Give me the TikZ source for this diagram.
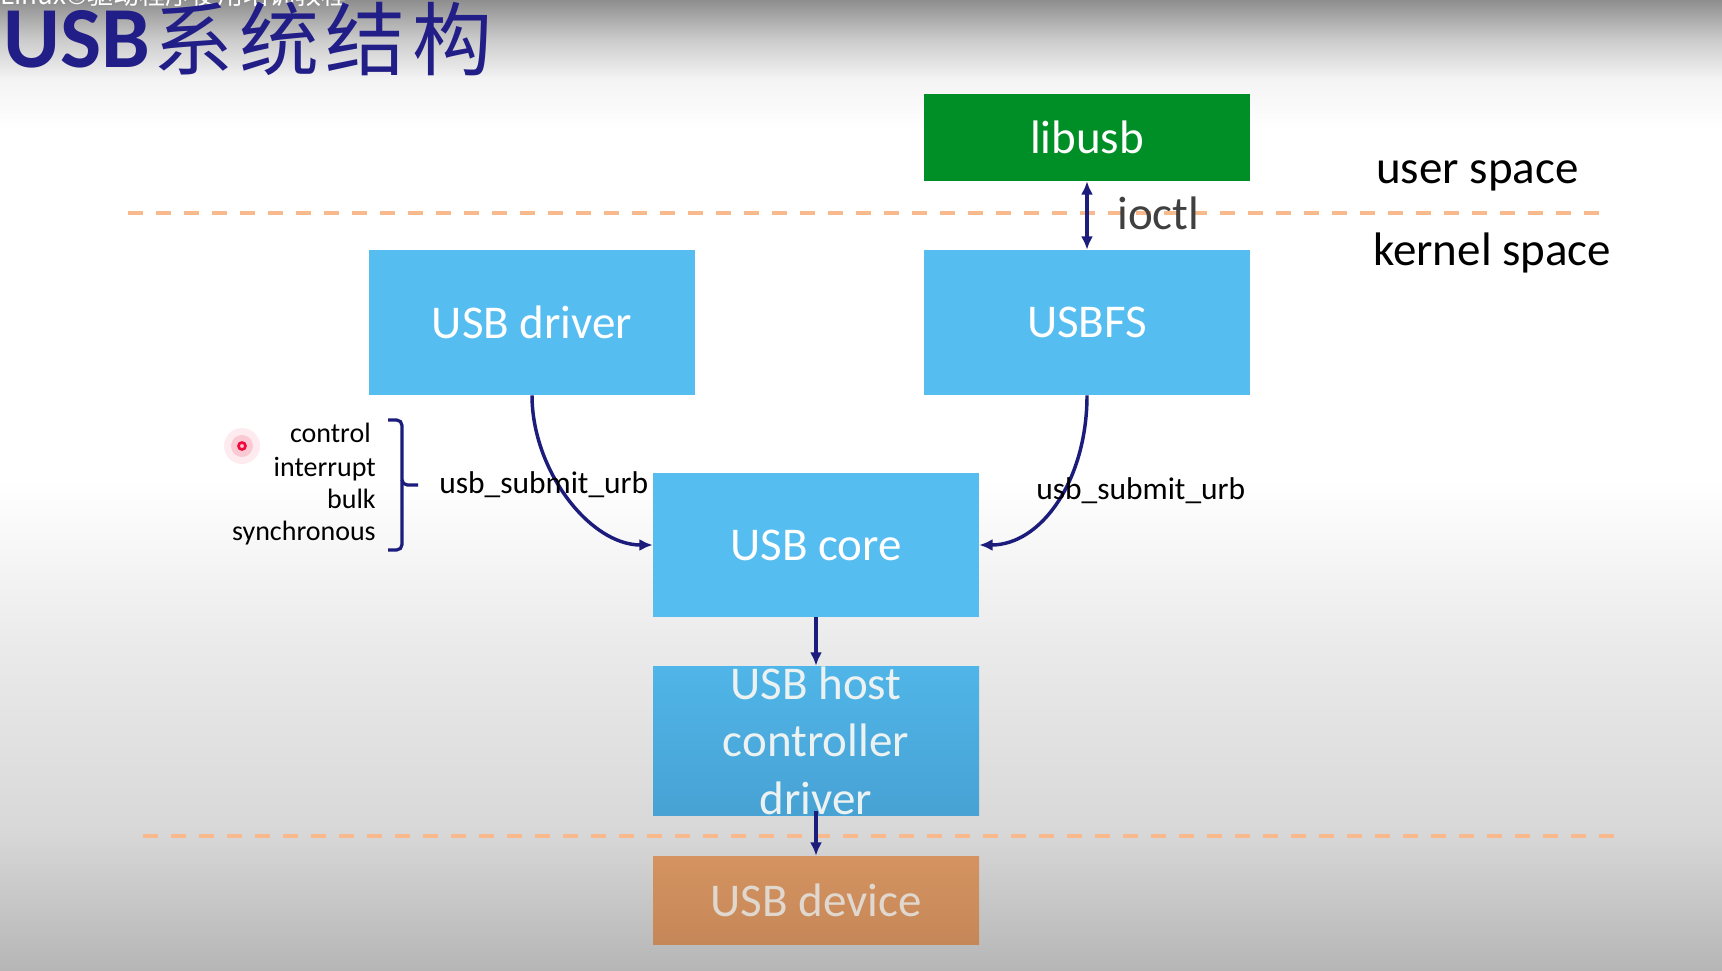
\documentclass[tikz,border=0pt]{standalone}
\usepackage{fontspec}
\setmainfont{Carlito}
\newfontfamily\cjk{Noto Sans CJK SC}
\usetikzlibrary{arrows.meta}
\definecolor{navy}{RGB}{28,28,125}
\definecolor{titlec}{RGB}{34,30,135}
\definecolor{boxblue}{RGB}{86,189,240}
\definecolor{hcdtop}{RGB}{80,181,232}
\definecolor{hcdbot}{RGB}{72,162,212}
\definecolor{devtop}{RGB}{212,147,96}
\definecolor{devbot}{RGB}{198,135,88}
\definecolor{libgreen}{RGB}{0,143,38}
\definecolor{dashc}{RGB}{248,185,140}
\definecolor{bgbot}{RGB}{182,182,182}
\definecolor{bgmid}{RGB}{216,216,216}
\definecolor{bgmtwo}{RGB}{234,234,234}
\definecolor{bgttwo}{RGB}{244,244,244}
\definecolor{bgtone}{RGB}{205,205,205}
\definecolor{bgtop}{RGB}{142,142,142}
\definecolor{ioctlc}{RGB}{64,64,64}
\definecolor{hcdtext}{RGB}{236,242,242}
\definecolor{devtext}{RGB}{224,216,206}
\definecolor{dotred}{RGB}{240,10,60}
\pgfdeclareverticalshading{bgshade}{100bp}{color(0bp)=(bgbot); color(25bp)=(bgbot); color(32.2bp)=(bgmid); color(41.5bp)=(bgmtwo); color(50.3bp)=(white); color(68.3bp)=(white); color(70.9bp)=(bgttwo); color(72.9bp)=(bgtone); color(75bp)=(bgtop); color(100bp)=(bgtop)}
\tikzset{
  box/.style={rectangle, inner sep=0pt, minimum width=244.5pt, align=center,
    font=\fontsize{35.25}{43.1}\selectfont, text=white},
  arr/.style={draw=navy, line width=2.6pt, -{Latex[length=10pt,width=9pt]}},
  darr/.style={draw=navy, line width=2.6pt, {Latex[length=10pt,width=9pt]}-{Latex[length=10pt,width=9pt]}},
  sep/.style={draw=dashc, line width=3pt, dash pattern=on 11.25pt off 9.75pt},
  big/.style={font=\fontsize{35.25}{43}\selectfont, inner sep=0pt},
  small/.style={font=\fontsize{21}{25}\selectfont, inner sep=0pt, text=black},
  urb/.style={font=\fontsize{23.6}{28}\selectfont, inner sep=0pt, text=black},
}
\begin{document}
\begin{tikzpicture}[x=0.75pt,y=-0.75pt]
\useasboundingbox (0,0) rectangle (1722,970);
\shade[shading=bgshade] (0,0) rectangle (1722,970);
\begin{scope}
\clip (0,0) rectangle (1722,970);
\node[anchor=base west, inner sep=0pt, text=white, font=\cjk\fontsize{19.5}{22}\selectfont] (wm) at (0,5) {Linux©驱动程序使用培训教程};
\end{scope}
% title
\node[anchor=base west, inner sep=0pt, text=titlec, font=\bfseries\fontsize{65.25}{70}\selectfont] (tusb) at (3,68) {USB};
\node[anchor=base west, inner sep=0pt, text=titlec, font=\cjk\fontsize{60}{70}\selectfont\addfontfeature{LetterSpace=8}] (tcn) at (153,69.5) {系统结构};
% separators
\draw[sep] (128,213) -- (1607,213);
\draw[sep] (143,836) -- (1620,836);
% boxes
\node[box, fill=libgreen, minimum height=65.25pt] (lib) at (1087,137.5) {libusb};
\node[box, fill=boxblue, minimum height=108.75pt] (drv) at (532,322.5) {USB driver};
\node[box, fill=boxblue, minimum height=108.75pt] (fs) at (1087,322.5) {USBFS};
\node[box, fill=boxblue, minimum height=108pt] (core) at (816,545) {USB core};
\node[box, top color=hcdtop, bottom color=hcdbot, minimum height=111.75pt, text=hcdtext] (hcd) at (816,740.5) {USB host\\controller\\driver};
\node[box, top color=devtop, bottom color=devbot, minimum height=66pt, text=devtext] (dev) at (816,900) {USB device};
% arrows
\draw[darr] (lib.south) -- (fs.north);
\draw[arr] (drv.south) .. controls +(0,75) and +(-63,0) .. (core.west);
\draw[arr] (fs.south) .. controls +(0,85) and +(62,0) .. (core.east);
\draw[arr] (core.south) -- (hcd.north);
\draw[arr] ([yshift=3pt]hcd.south) -- (dev.north);
% labels
\node[big, anchor=base west, text=ioctlc] (ioctl) at (1117,229) {ioctl};
\node[big, anchor=base west, text=black] (us) at (1376,183) {user space};
\node[big, anchor=base west, text=black] (ks) at (1373,265) {kernel space};
\node[urb, anchor=base west] (urbl) at (439,493) {usb\_submit\_urb};
\node[urb, anchor=base west] (urbr) at (1036,499) {usb\_submit\_urb};
\node[small, anchor=base east] (ctl) at (371,442) {control};
\node[small, anchor=base east] (intr) at (376,476) {interrupt};
\node[small, anchor=base east] (blk) at (376,508) {bulk};
\node[small, anchor=base east] (syn) at (376,540) {synchronous};
% brace
\draw[navy, line width=2.4pt, rounded corners=4pt] (388,420) -- (402,420) -- (402,485) -- (418,485);
\draw[navy, line width=2.4pt, rounded corners=4pt] (402,480) -- (402,550) -- (388,550);
% pointer dot
\fill[dotred, opacity=0.08] (242,446) circle (18);
\fill[dotred, opacity=0.15] (242,446) circle (11);
\draw[dotred, line width=2pt] (242,446) circle (3.5);
\end{tikzpicture}
\end{document}
